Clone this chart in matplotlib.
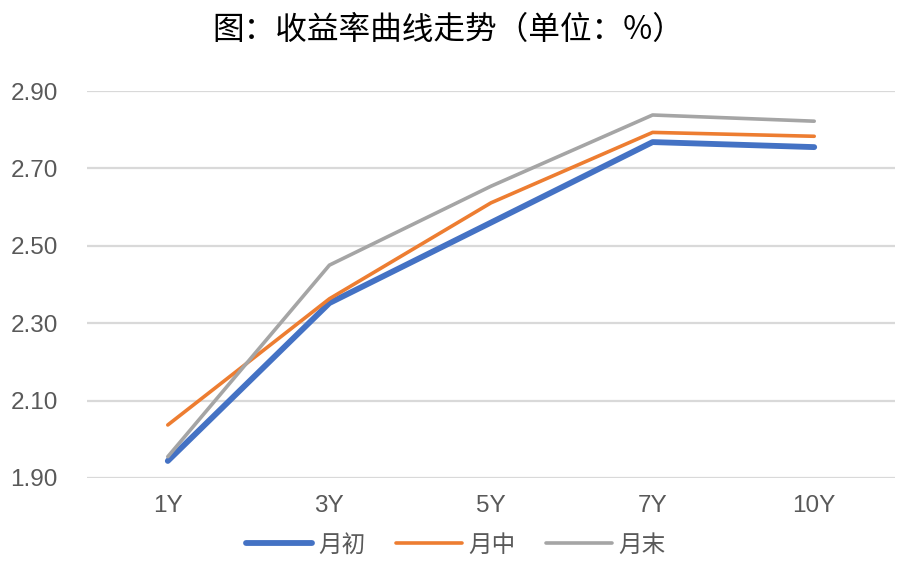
import matplotlib
matplotlib.use("Agg")
import matplotlib.pyplot as plt
import numpy as np

tenors = ["1Y", "3Y", "5Y", "7Y", "10Y"]
month_start = [1.944, 2.352, 2.560, 2.768, 2.755]
month_mid = [2.037, 2.363, 2.611, 2.793, 2.783]
month_end = [1.955, 2.450, 2.654, 2.838, 2.822]
series_names = ["月初", "月中", "月末"]
yticks = [1.90, 2.10, 2.30, 2.50, 2.70, 2.90]

plt.rcParams['font.family'] = ['Liberation Sans', 'Noto Sans CJK SC', 'DejaVu Sans']

fig = plt.figure(figsize=(9.08, 5.80), dpi=100)
ax = fig.add_axes([0.0958, 0.1759, 0.8899, 0.6672])

x = np.arange(len(tenors))
ax.plot(x, month_start, color="#4472C4", lw=4.2, solid_capstyle="round",
        label=series_names[0], clip_on=False, zorder=3)
ax.plot(x, month_mid, color="#ED7D31", lw=2.6, solid_capstyle="round",
        label=series_names[1], clip_on=False, zorder=3)
ax.plot(x, month_end, color="#A5A5A5", lw=2.6, solid_capstyle="round",
        label=series_names[2], clip_on=False, zorder=3)

ax.set_xlim(-0.5, len(tenors) - 0.5)
ax.set_ylim(1.90, 2.90)
ax.set_xticks(x)
ax.set_xticklabels(tenors)
ax.set_yticks(yticks)
ax.set_yticklabels(["%.2f" % v for v in yticks])
ax.tick_params(axis="both", length=0, colors="#595959", labelsize=17.5)
ax.tick_params(axis="y", pad=21)
ax.tick_params(axis="x", pad=12)
ax.grid(axis="y", color="#D9D9D9", lw=1.6)
ax.set_axisbelow(True)
for s in ax.spines.values():
    s.set_visible(False)

fig.text(0.494, 0.948, "图：收益率曲线走势（单位：%）", ha="center", va="center",
         fontsize=22.8, fontweight="medium", color="#000000",
         family=['Noto Sans CJK SC', 'DejaVu Sans'])

leg = fig.legend(loc="center", bbox_to_anchor=(0.502, 0.06), ncol=3, frameon=False,
                 handlelength=2.8, handletextpad=0.25, columnspacing=1.3,
                 prop={'family': ['Noto Sans CJK SC'], 'size': 17})
for t in leg.get_texts():
    t.set_color("#595959")

fig.savefig("out.png", dpi=100)
